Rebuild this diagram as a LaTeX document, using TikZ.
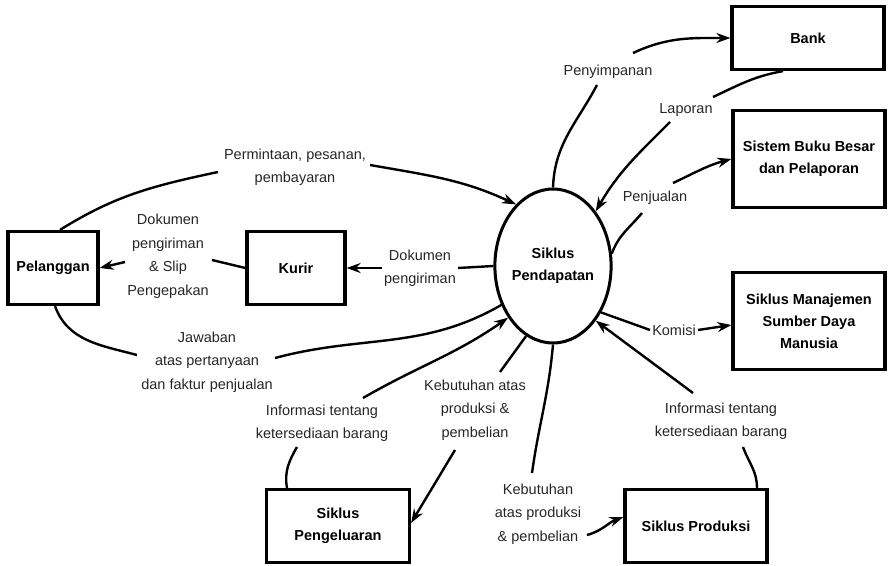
\documentclass[tikz,border=0pt]{standalone}
\usepackage{fontspec}
\setmainfont{Liberation Sans}
\usetikzlibrary{arrows.meta, positioning, calc, shapes.geometric}

\begin{document}
\begin{tikzpicture}[x=1pt, y=1pt,
  entity/.style={draw, line width=3.2pt, align=center, inner sep=2pt,
    font=\fontsize{14.5}{22}\selectfont\bfseries},
  proc/.style={draw, ellipse, line width=3pt, inner sep=0pt, align=center,
    minimum width=104pt, minimum height=154pt,
    font=\fontsize{14.5}{22}\selectfont\bfseries},
  lbl/.style={align=center, inner sep=2pt, text=black!85,
    font=\fontsize{14.5}{23.5}\selectfont},
  flow/.style={line width=2.4pt},
  flowarr/.style={line width=2.4pt, -{Stealth[length=14pt, width=10pt]}}]
\useasboundingbox (0,0) rectangle (889,-565);

% entities
\node[proc] (siklus) at (553,-266) {Siklus\\Pendapatan};
\node[entity, minimum width=90pt, minimum height=73pt] (pelanggan) at (53,-268) {Pelanggan};
\node[entity, minimum width=98pt, minimum height=73pt] (kurir) at (296,-268) {Kurir};
\node[entity, minimum width=152pt, minimum height=63pt] (bank) at (808,-38) {Bank};
\node[entity, minimum width=152pt, minimum height=97pt] (buku) at (809,-159) {Sistem Buku Besar\\dan Pelaporan};
\node[entity, minimum width=152pt, minimum height=97pt] (sdm) at (809,-321) {Siklus Manajemen\\Sumber Daya\\Manusia};
\node[entity, minimum width=142pt, minimum height=73pt] (produksi) at (696,-526) {Siklus Produksi};
\node[entity, minimum width=143pt, minimum height=73pt] (pengeluaran) at (338,-526) {Siklus\\Pengeluaran};

% flow labels
\node[lbl] (lPermintaan) at (295,-167) {Permintaan, pesanan,\\pembayaran};
\node[lbl] (lDokSlip) at (168,-256) {Dokumen\\pengiriman\\\& Slip\\Pengepakan};
\node[lbl] (lDokKurir) at (420,-268) {Dokumen\\pengiriman};
\node[lbl] (lJawaban) at (207,-362) {Jawaban\\atas pertanyaan\\dan faktur penjualan};
\node[lbl] (lInfoKiri) at (322,-423) {Informasi tentang\\ketersediaan barang};
\node[lbl] (lKebKiri) at (475,-410) {Kebutuhan atas\\produksi \&\\pembelian};
\node[lbl] (lKebKanan) at (538,-514) {Kebutuhan\\atas produksi\\\& pembelian};
\node[lbl] (lInfoKanan) at (721,-421) {Informasi tentang\\ketersediaan barang};
\node[lbl] (lKomisi) at (674,-330) {Komisi};
\node[lbl] (lSimpan) at (608,-72) {Penyimpanan};
\node[lbl] (lLaporan) at (686,-110) {Laporan};
\node[lbl] (lJual) at (655,-198) {Penjualan};

% flows
\draw[flow] ([xshift=7]pelanggan.north) to[out=32, in=192] ($(lPermintaan)+(-77,-5)$);
\draw[flowarr] ($(lPermintaan)+(75,2)$) to[out=-10, in=155] (siklus.121);

\draw[flow] (siklus.180) -- (lDokKurir.east);
\draw[flowarr] (lDokKurir.west) -- (kurir.east);

\draw[flow] (kurir.west) -- ($(lDokSlip)+(44,-4)$);
\draw[flowarr] ($(lDokSlip)+(-43,-6)$) -- (pelanggan.east);

\draw[flow] ([xshift=2]pelanggan.south) to[out=-70, in=165] ($(lJawaban)+(-70,7)$);
\draw[flow] ($(lJawaban)+(68,4)$) to[out=15, in=210] (siklus.217);

\draw[flow] ([xshift=-51]pengeluaran.north) to[out=100, in=240] ($(lInfoKiri)+(-25,-24)$);
\draw[flowarr] ($(lInfoKiri)+(41,25)$) to[out=30, in=215] (siklus.229);

\draw[flow] (siklus.249) -- ($(lKebKiri)+(25,38)$);
\draw[flowarr] ($(lKebKiri)+(-20,-40)$) -- ([yshift=3]pengeluaran.east);

\draw[flow] (siklus.south) to[out=265, in=82] ($(lKebKanan)+(-6,41)$);
\draw[flowarr] ($(lKebKanan)+(49,-21)$) to[out=15, in=200] ([yshift=9]produksi.west);

\draw[flow] ([xshift=61]produksi.north) to[out=90, in=290] ($(lInfoKanan)+(22,-26)$);
\draw[flowarr] ($(lInfoKanan)+(-28,28)$) -- (siklus.308);

\draw[flow] (siklus.316) -- (lKomisi.west);
\draw[flowarr] (lKomisi.east) -- ([yshift=-4]sdm.west);

\draw[flow] (siklus.north) to[out=88, in=242] ($(lSimpan)+(-11,-13)$);
\draw[flowarr] ($(lSimpan)+(25,19)$) to[out=25, in=180] (bank.west);

\draw[flow] ([xshift=-25]bank.south) to[out=190, in=25] ($(lLaporan)+(27,13)$);
\draw[flowarr] ($(lLaporan)+(-16,-12)$) to[out=225, in=60] (siklus.52);

\draw[flow] (siklus.12) to[out=70, in=230] ($(lJual)+(-13,-15)$);
\draw[flowarr] ($(lJual)+(18,15)$) to[out=25, in=195] (buku.west);
\end{tikzpicture}
\end{document}
